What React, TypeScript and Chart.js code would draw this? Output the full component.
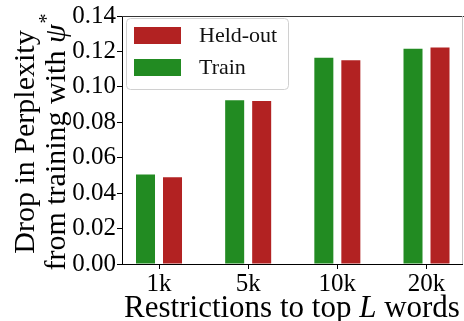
import React, { useEffect, useRef } from "react";
import { Chart, registerables } from "chart.js";

Chart.register(...registerables);

const categories = ["1k", "5k", "10k", "20k"];
const trainValues = [0.0505, 0.0925, 0.1165, 0.1215];
const heldOutValues = [0.049, 0.092, 0.115, 0.1222];
const yTickValues = [0, 0.02, 0.04, 0.06, 0.08, 0.1, 0.12, 0.14];
const legendLabels = ["Held-out", "Train"];

const GREEN = "#228B22";
const RED = "#B22222";
const FONT = "'Liberation Serif', 'Times New Roman', serif";

const W = 464;
const H = 321;

const decorPlugin = {
  id: "decor",
  afterDraw(chart: any) {
    const ctx = chart.ctx as CanvasRenderingContext2D;
    const area = chart.chartArea;
    ctx.save();

    // top spine
    ctx.strokeStyle = "#333";
    ctx.lineWidth = 1;
    ctx.beginPath();
    ctx.moveTo(area.left, Math.round(area.top) + 0.5);
    ctx.lineTo(W, Math.round(area.top) + 0.5);
    ctx.stroke();
    // right spine (light)
    ctx.strokeStyle = "#c8c8c8";
    ctx.beginPath();
    ctx.moveTo(Math.round(area.right) + 0.5, area.top);
    ctx.lineTo(Math.round(area.right) + 0.5, area.bottom);
    ctx.stroke();

    ctx.fillStyle = "#000";

    // y title (two lines, rotated)
    const cy = (area.top + area.bottom) / 2 + 2;
    ctx.save();
    ctx.translate(0, cy);
    ctx.rotate(-Math.PI / 2);
    ctx.textAlign = "left";
    ctx.textBaseline = "alphabetic";
    ctx.font = `30px ${FONT}`;
    const l1 = "Drop in Perplexity";
    const w1 = ctx.measureText(l1).width;
    ctx.fillText(l1, -w1 / 2, 33.5);
    const l2a = "from training with ";
    ctx.font = `30px ${FONT}`;
    const wa = ctx.measureText(l2a).width;
    ctx.font = `italic 30px ${FONT}`;
    const wpsi = ctx.measureText("ψ").width;
    ctx.font = `20px ${FONT}`;
    const wstar = ctx.measureText("*").width;
    const tot = wa + wpsi + wstar + 1;
    let x = -tot / 2;
    ctx.font = `30px ${FONT}`;
    ctx.fillText(l2a, x, 64.5);
    x += wa;
    ctx.font = `italic 30px ${FONT}`;
    ctx.fillText("ψ", x, 64.5);
    x += wpsi + 1;
    ctx.font = `20px ${FONT}`;
    ctx.fillText("*", x, 64.5 - 12);
    ctx.restore();

    // x title
    ctx.textBaseline = "alphabetic";
    ctx.textAlign = "left";
    const p1 = "Restrictions to top ";
    const p3 = " words";
    ctx.font = `31px ${FONT}`;
    const wp1 = ctx.measureText(p1).width;
    const wp3 = ctx.measureText(p3).width;
    ctx.font = `italic 31px ${FONT}`;
    const wL = ctx.measureText("L").width;
    const totX = wp1 + wL + wp3;
    let xx = (area.left + area.right) / 2 - totX / 2;
    const by = 316.5;
    ctx.font = `31px ${FONT}`;
    ctx.fillText(p1, xx, by);
    xx += wp1;
    ctx.font = `italic 31px ${FONT}`;
    ctx.fillText("L", xx, by);
    xx += wL;
    ctx.font = `31px ${FONT}`;
    ctx.fillText(p3, xx, by);

    // legend
    const bx = 126.5, byy = 18.5, bw = 162, bh = 71;
    ctx.beginPath();
    (ctx as any).roundRect(bx, byy, bw, bh, 4);
    ctx.fillStyle = "rgba(255,255,255,0.8)";
    ctx.fill();
    ctx.strokeStyle = "#d0d0d0";
    ctx.lineWidth = 1;
    ctx.stroke();
    const colors = [RED, GREEN];
    const rowsY = [27, 59];
    ctx.font = `22px ${FONT}`;
    ctx.textBaseline = "middle";
    for (let i = 0; i < legendLabels.length; i++) {
      ctx.fillStyle = colors[i];
      ctx.fillRect(134, rowsY[i], 47, 17);
      ctx.fillStyle = "#111";
      ctx.fillText(legendLabels[i], 199, rowsY[i] + 9);
    }
    ctx.restore();
  },
};

export default function App() {
  const ref = useRef<HTMLCanvasElement | null>(null);
  useEffect(() => {
    if (!ref.current) return;
    const chart = new Chart(ref.current, {
      type: "bar",
      data: {
        datasets: [
          {
            label: "Train",
            data: categories.map((_, i) => ({ x: i, y: trainValues[i] })),
            backgroundColor: GREEN,
            categoryPercentage: 0.6056,
            barPercentage: 0.704,
          },
          {
            label: "Held-out",
            data: categories.map((_, i) => ({ x: i, y: heldOutValues[i] })),
            backgroundColor: RED,
            categoryPercentage: 0.6056,
            barPercentage: 0.704,
          },
        ],
      },
      options: {
        animation: false,
        responsive: false,
        devicePixelRatio: 1,
        layout: { padding: { top: 14, right: 2, left: 0, bottom: 0 } },
        plugins: {
          legend: { display: false },
          tooltip: { enabled: false },
        },
        scales: {
          x: {
            type: "linear",
            min: -0.415,
            max: 3.398,
            offset: false,
            afterBuildTicks: (scale: any) => {
              scale.ticks = categories.map((_, i) => ({ value: i }));
            },
            afterFit: (scale: any) => {
              scale.height = 57;
            },
            ticks: {
              autoSkip: false,
              maxRotation: 0,
              padding: 0,
              color: "#000",
              font: { family: FONT, size: 25 },
              callback: (v: any) => categories[v as number] ?? "",
            },
            grid: {
              display: true,
              drawOnChartArea: false,
              drawTicks: true,
              tickLength: 5,
              color: "#000",
              offset: false,
            },
            border: { display: true, color: "#000", width: 1 },
          },
          y: {
            min: 0,
            max: 0.14,
            afterBuildTicks: (scale: any) => {
              scale.ticks = yTickValues.map((v) => ({ value: v }));
            },
            afterFit: (scale: any) => {
              scale.width = 122;
            },
            ticks: {
              padding: 1,
              color: "#000",
              font: { family: FONT, size: 25 },
              callback: (v: any) => Number(v).toFixed(2),
            },
            grid: {
              display: true,
              drawOnChartArea: false,
              drawTicks: true,
              tickLength: 5,
              color: "#000",
            },
            border: { display: true, color: "#000", width: 1 },
          },
        },
      },
      plugins: [decorPlugin],
    } as any);
    return () => chart.destroy();
  }, []);
  return (
    <div style={{ position: "fixed", left: 0, top: 0, width: W, height: H, background: "#fff" }}>
      <canvas ref={ref} width={W} height={H} style={{ display: "block" }} />
    </div>
  );
}
